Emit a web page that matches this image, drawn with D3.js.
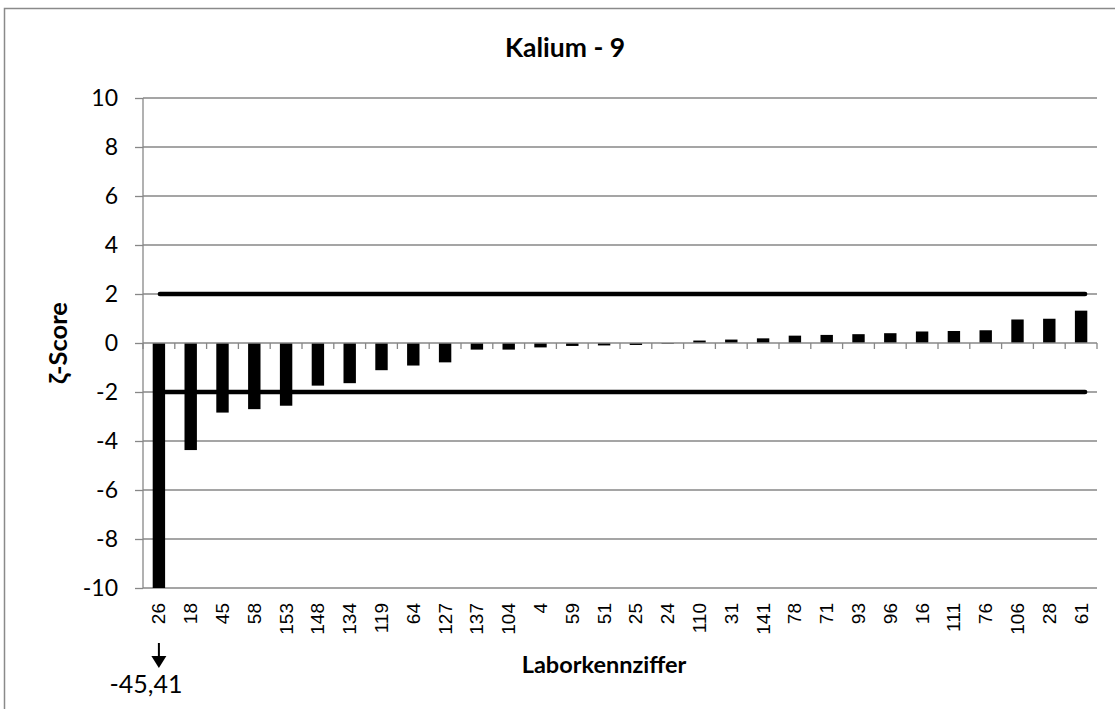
<!DOCTYPE html>
<html><head><meta charset="utf-8">
<script src="https://cdn.jsdelivr.net/npm/d3@7"></script>
<style>body{margin:0;background:#fff;} svg{display:block;}</style>
</head><body>
<svg id="c" width="1115" height="709"></svg>
<script>
const labs = ["26","18","45","58","153","148","134","119","64","127","137","104","4","59","51","25","24","110","31","141","78","71","93","96","16","111","76","106","28","61"];
const scores = [-45.41,-4.37,-2.84,-2.70,-2.56,-1.74,-1.64,-1.11,-0.92,-0.79,-0.27,-0.27,-0.18,-0.12,-0.10,-0.08,-0.03,0.10,0.14,0.19,0.30,0.33,0.36,0.40,0.47,0.49,0.52,0.96,0.99,1.32];
const yTicks = [-10,-8,-6,-4,-2,0,2,4,6,8,10];
const limits = [2,-2];
const title = "Kalium - 9";
const yTitle = "ζ-Score";
const xTitle = "Laborkennziffer";
const offNote = "-45,41";

const svg = d3.select("#c");
const L=143,R=1097,T=98,B=588;
const grid="#878787";
const calibri="Lato, 'Open Sans', sans-serif";
const arial="'Liberation Sans', Arial, sans-serif";

svg.append("rect").attr("x",4.5).attr("y",8.5).attr("width",1300).attr("height",900)
  .attr("fill","none").attr("stroke","#8a8a8a").attr("stroke-width",1.5);

const x = d3.scaleBand().domain(labs).range([L,R]).paddingInner(0.61).paddingOuter(0.305);
const xs = d3.scaleBand().domain(labs).range([L,R]).padding(0);
const y = d3.scaleLinear().domain([-10,10]).range([B,T]).clamp(true);

// gridlines
svg.append("g").selectAll("line").data(yTicks.filter(d=>d!==0)).join("line")
  .attr("x1",L).attr("x2",R).attr("y1",d=>y(d)).attr("y2",d=>y(d))
  .attr("stroke",grid).attr("stroke-width",1.3);

// y axis
const ya = svg.append("g").attr("transform",`translate(${L},0)`)
  .call(d3.axisLeft(y).tickValues(yTicks).tickSize(8).tickPadding(17).tickFormat(d=>String(d)));
ya.select(".domain").attr("stroke",grid).attr("stroke-width",1.3).attr("d",`M-0,${T}V${B}`);
ya.selectAll(".tick line").attr("stroke",grid).attr("stroke-width",1.3);
ya.selectAll(".tick text").attr("font-family",calibri).attr("font-size",23).attr("fill","#000");

// bars
svg.append("g").selectAll("rect").data(scores).join("rect")
  .attr("x",(d,i)=>x(labs[i])).attr("width",x.bandwidth())
  .attr("y",d=>y(Math.max(0,d))).attr("height",d=>Math.abs(y(d)-y(0)))
  .attr("fill","#000");

// zero axis with ticks
const xa = svg.append("g").attr("transform",`translate(0,${y(0)})`);
xa.append("line").attr("x1",L).attr("x2",R).attr("stroke",grid).attr("stroke-width",1.3);
xa.selectAll("line.t").data(labs.concat(["end"])).join("line").attr("class","t")
  .attr("x1",(d,i)=> i<labs.length? xs(d) : R).attr("x2",(d,i)=> i<labs.length? xs(d) : R)
  .attr("y1",0).attr("y2",6).attr("stroke",grid).attr("stroke-width",1.3);

// limit lines
const first = xs(labs[0])+xs.bandwidth()/2, last = xs(labs[labs.length-1])+xs.bandwidth()/2;
svg.append("g").selectAll("line").data(limits).join("line")
  .attr("x1",first+1).attr("x2",last+4).attr("y1",d=>y(d)).attr("y2",d=>y(d))
  .attr("stroke","#000").attr("stroke-width",4.5).attr("stroke-linecap","round");

// category labels
svg.append("g").selectAll("text").data(labs).join("text")
  .attr("transform",d=>`translate(${xs(d)+xs.bandwidth()/2},603) rotate(-90)`)
  .attr("text-anchor","end").attr("dominant-baseline","central")
  .attr("font-family",arial).attr("font-size",19).attr("fill","#000").text(d=>d);

// titles
svg.append("text").attr("x",565).attr("y",57).attr("text-anchor","middle")
  .attr("font-family",calibri).attr("font-weight","bold").attr("font-size",26.5).text(title);
svg.append("text").attr("transform",`translate(67,343) rotate(-90)`).attr("text-anchor","middle")
  .attr("font-family",calibri).attr("font-weight","bold").attr("font-size",25.5).text(yTitle);
svg.append("text").attr("x",604).attr("y",673).attr("text-anchor","middle")
  .attr("font-family",calibri).attr("font-weight","bold").attr("font-size",23.5).text(xTitle);

// off-scale note
const ax = xs(labs[0])+xs.bandwidth()/2;
svg.append("line").attr("x1",ax).attr("x2",ax).attr("y1",643).attr("y2",658).attr("stroke","#000").attr("stroke-width",2);
svg.append("path").attr("d",`M${ax-7.5},656L${ax+7.5},656L${ax},668Z`).attr("fill","#000");
svg.append("text").attr("x",146).attr("y",693).attr("text-anchor","middle")
  .attr("font-family",calibri).attr("font-size",25).text(offNote);
</script>
</body></html>
